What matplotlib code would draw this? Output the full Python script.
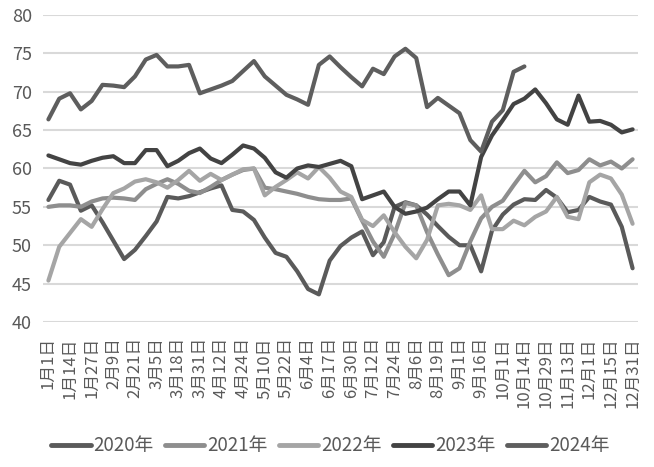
import matplotlib.pyplot as plt
from matplotlib.lines import Line2D

plt.rcParams['font.family'] = ['Noto Sans CJK SC', 'DejaVu Sans']

# tick labels, one every second category (55 categories in all)
x_labels = ['1月1日', '1月14日', '1月27日', '2月9日', '2月21日', '3月5日', '3月18日',
            '3月31日', '4月12日', '4月24日', '5月10日', '5月22日', '6月4日', '6月17日',
            '6月30日', '7月12日', '7月24日', '8月6日', '8月19日', '9月1日', '9月16日',
            '10月1日', '10月14日', '10月29日', '11月13日', '12月1日', '12月15日', '12月31日']

y2020 = [55.9, 58.4, 57.9, 54.5, 55.2, 53.0, 50.6, 48.2, 49.4, 51.2,
         53.1, 56.3, 56.1, 56.4, 56.9, 57.4, 57.8, 54.6, 54.4, 53.3,
         51.0, 49.0, 48.5, 46.6, 44.3, 43.6, 48.0, 49.9, 51.0, 51.8,
         48.7, 50.4, 55.0, 55.6, 55.2, 54.0, 52.5, 51.1, 50.0, 50.0,
         46.6, 51.9, 54.0, 55.3, 56.0, 55.9, 57.2, 56.2, 54.3, 54.6,
         56.3, 55.7, 55.3, 52.4, 47.0]

y2021 = [55.0, 55.2, 55.2, 55.0, 55.7, 56.1, 56.2, 56.1, 55.9, 57.3,
         58.0, 58.6, 58.0, 57.1, 56.8, 57.6, 58.5, 59.2, 59.8, 60.0,
         57.5, 57.3, 57.0, 56.7, 56.3, 56.0, 55.9, 55.9, 56.1, 53.2,
         50.5, 48.5, 51.5, 55.5, 55.2, 51.7, 48.8, 46.1, 47.0, 50.5,
         53.5, 55.0, 55.8, 57.8, 59.7, 58.2, 59.0, 60.8, 59.4, 59.8,
         61.2, 60.4, 60.9, 60.0, 61.2]

y2022 = [45.4, 49.8, 51.6, 53.4, 52.4, 54.7, 56.8, 57.4, 58.3, 58.6,
         58.2, 57.5, 58.5, 59.7, 58.4, 59.3, 58.5, 59.2, 59.9, 60.0,
         56.5, 57.6, 58.5, 59.5, 58.7, 60.2, 58.8, 57.0, 56.3, 53.3,
         52.5, 53.9, 51.7, 49.8, 48.3, 50.7, 55.2, 55.4, 55.2, 54.6,
         56.5, 52.1, 52.1, 53.2, 52.6, 53.7, 54.4, 56.3, 53.7, 53.4,
         58.2, 59.2, 58.7, 56.6, 52.8]

y2023 = [61.7, 61.2, 60.7, 60.5, 61.0, 61.4, 61.6, 60.7, 60.7, 62.4,
         62.4, 60.3, 61.0, 62.0, 62.6, 61.3, 60.7, 61.8, 63.0, 62.6,
         61.4, 59.5, 58.8, 60.0, 60.4, 60.2, 60.6, 61.0, 60.3, 56.0,
         56.5, 57.0, 55.0, 54.1, 54.4, 54.9, 56.0, 57.0, 57.0, 55.2,
         61.5, 64.3, 66.3, 68.4, 69.1, 70.3, 68.5, 66.4, 65.7, 69.5,
         66.1, 66.2, 65.7, 64.7, 65.1]

# 2024 stops at 10月14日
y2024 = [66.4, 69.1, 69.8, 67.7, 68.8, 70.9, 70.8, 70.6, 72.0, 74.2,
         74.8, 73.3, 73.3, 73.5, 69.8, 70.3, 70.8, 71.4, 72.7, 74.0,
         72.0, 70.8, 69.6, 69.0, 68.3, 73.5, 74.6, 73.2, 71.9, 70.7,
         73.0, 72.3, 74.6, 75.6, 74.4, 68.0, 69.2, 68.2, 67.2, 63.7,
         62.2, 66.1, 67.6, 72.6, 73.3]

series = [('2020年', y2020, '#5a5a5a'),
          ('2021年', y2021, '#8e8e8e'),
          ('2022年', y2022, '#a5a5a5'),
          ('2023年', y2023, '#434343'),
          ('2024年', y2024, '#5e5e5e')]

fig = plt.figure(figsize=(6.54, 4.67), dpi=100)
ax = fig.add_axes([43 / 654, 145 / 467, 595 / 654, 307 / 467])

handles = []
for name, vals, color in series:
    ax.plot(range(len(vals)), vals, color=color, lw=3,
            solid_capstyle='round', solid_joinstyle='round')
    handles.append(Line2D([], [], color=color, lw=3.5, solid_capstyle='round'))

ax.set_xlim(-0.5, 54.5)
ax.set_ylim(40, 80)
ax.set_yticks(range(40, 81, 5))
ax.set_xticks(range(0, 55, 2))
ax.set_xticklabels(x_labels, rotation=90)

ax.grid(axis='y', color='#d9d9d9', lw=1.5)
ax.set_axisbelow(True)
for s in ax.spines.values():
    s.set_visible(False)
ax.tick_params(axis='both', length=0, labelcolor='#595959')
ax.tick_params(axis='y', labelsize=13, pad=8)
ax.tick_params(axis='x', labelsize=12, pad=11)

fig.legend(handles, [s[0] for s in series], loc='center', ncol=5,
           bbox_to_anchor=(0.505, 0.045), frameon=False, fontsize=13.5,
           handlelength=2.1, handletextpad=0.15, columnspacing=0.6,
           labelcolor='#595959')

fig.savefig('out.png', dpi=100)
